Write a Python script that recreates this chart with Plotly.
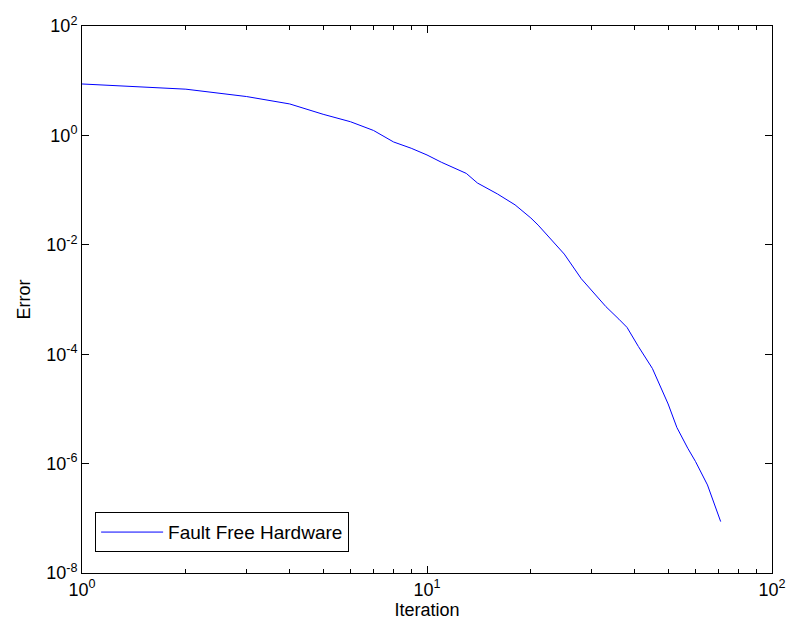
import plotly.graph_objects as go

iterations = [1, 2, 3, 4, 5, 6, 7, 8, 9, 10, 11, 12, 13, 14, 16, 18, 20, 21, 23, 25, 28, 30, 33, 36, 38, 41,
              45, 50, 53, 57, 60, 65, 68, 71]
log_error = [0.94, 0.845, 0.71, 0.575, 0.386, 0.25, 0.09, -0.12, -0.235, -0.358, -0.49, -0.60, -0.695, -0.87,
             -1.07, -1.27, -1.51, -1.64, -1.92, -2.17, -2.62, -2.84, -3.13, -3.36, -3.51, -3.86,
             -4.26, -4.91, -5.34, -5.72, -5.96, -6.39, -6.72, -7.06]
error = [10 ** v for v in log_error]

x_tick_vals = [1, 10, 100]
x_tick_text = ["10<sup>0</sup>", "10<sup>1</sup>", "10<sup>2</sup>"]
x_minor_vals = [2, 3, 4, 5, 6, 7, 8, 9, 20, 30, 40, 50, 60, 70, 80, 90]
y_tick_vals = [1e-8, 1e-6, 1e-4, 1e-2, 1, 100]
y_tick_text = ["10<sup>-8</sup>", "10<sup>-6</sup>", "10<sup>-4</sup>", "10<sup>-2</sup>", "10<sup>0</sup>", "10<sup>2</sup>"]

FONT = "Liberation Sans, Arial, Helvetica, sans-serif"

fig = go.Figure()
fig.add_trace(go.Scatter(x=iterations, y=error, mode="lines", name="Fault Free Hardware",
                         line=dict(color="#0000ff", width=1)))

axis_common = dict(type="log", showgrid=False, zeroline=False, showline=True, linecolor="black",
                   linewidth=1, mirror="ticks", ticks="inside", tickcolor="black", ticklen=7,
                   automargin=False,
                   tickfont=dict(family=FONT, size=18, color="black"))

fig.update_xaxes(range=[0, 2], tickmode="array", tickvals=x_tick_vals, ticktext=x_tick_text,
                 minor=dict(tickmode="array", tickvals=x_minor_vals, ticks="inside", ticklen=4,
                            tickcolor="black"),
                 title=dict(text="Iteration", font=dict(family=FONT, size=18, color="black"),
                            standoff=2),
                 **axis_common)
fig.update_yaxes(range=[-8, 2], tickmode="array", tickvals=y_tick_vals, ticktext=y_tick_text,
                 title=dict(text="Error", font=dict(family=FONT, size=18, color="black"),
                            standoff=10),
                 **axis_common)

fig.update_layout(
    width=788, height=627,
    margin=dict(l=82, r=16, t=26, b=54),
    plot_bgcolor="white", paper_bgcolor="white",
    showlegend=True,
    legend=dict(x=0.019, y=0.038, xanchor="left", yanchor="bottom",
                bgcolor="white", bordercolor="black", borderwidth=1, itemwidth=62,
                font=dict(family=FONT, size=19, color="black")),
)

fig.write_html("out.html", config={"displayModeBar": False},
               post_script="document.body.style.margin='0';document.body.style.overflow='hidden';")
